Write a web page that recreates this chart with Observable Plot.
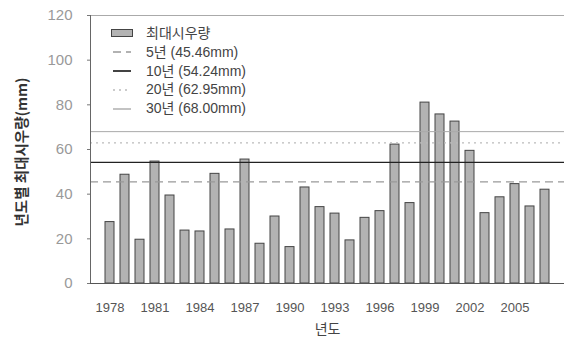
<!DOCTYPE html>
<html>
<head>
<meta charset="utf-8">
<script src="https://cdn.jsdelivr.net/npm/d3@7"></script>
<script src="https://cdn.jsdelivr.net/npm/@observablehq/plot@0.6"></script>
<style>
  html, body { margin: 0; padding: 0; background: #fff; }
  #wrap { position: relative; width: 564px; height: 344px; font-family: "Liberation Sans", Arial, "Noto Sans CJK KR", sans-serif; }
  #legend { position: absolute; left: 111px; top: 24px; font-size: 14px; color: #444; line-height: 18.8px; font-family: "Liberation Sans", Arial, "Noto Sans CJK KR", sans-serif; }
  #legend .row { display: flex; align-items: center; height: 18.8px; }
  #legend .sw { width: 22px; height: 10px; margin-right: 13px; position: relative; }
  #ytitle { position: absolute; left: 20px; top: 152px; transform: translate(-50%, -50%) rotate(-90deg); white-space: nowrap; font-size: 14.5px; font-weight: bold; color: #333; font-family: "Noto Sans CJK KR", sans-serif; }
</style>
</head>
<body>
<div id="wrap"><div id="ytitle">년도별 최대시우량(mm)</div></div>
<script>
const years = d3.range(1978, 2008);
const rainfall = [27.5, 48.7, 19.6, 54.6, 39.4, 23.7, 23.3, 49.1, 24.2, 55.5,
                  17.8, 30.0, 16.3, 43.0, 34.2, 31.3, 19.3, 29.4, 32.4, 62.2,
                  36.0, 81.0, 75.7, 72.5, 59.4, 31.5, 38.6, 44.5, 34.5, 42.0];
const barLabel = "최대시우량";
const periodLabels = ["5년 (45.46mm)", "10년 (54.24mm)", "20년 (62.95mm)", "30년 (68.00mm)"];
const periodValues = [45.46, 54.24, 62.95, 68.00];
const periodStyles = [
  {stroke: "#999", width: 1.2, dash: "8,5"},
  {stroke: "#222", width: 1.3, dash: null},
  {stroke: "#bbb", width: 1.2, dash: "2,4"},
  {stroke: "#aaa", width: 1.0, dash: null}
];
const xTicks = years.filter((y, i) => i % 3 === 0);
const yTicks = [0, 20, 40, 60, 80, 100, 120];

const data = years.map((y, i) => ({year: y, value: rainfall[i]}));
const lines = periodValues.map((v, i) => ({value: v, label: periodLabels[i], ...periodStyles[i]}));

const chart = Plot.plot({
  width: 564,
  height: 344,
  marginLeft: 90,
  marginRight: 0,
  marginTop: 15,
  marginBottom: 61,
  style: {fontFamily: "Liberation Sans, Arial, sans-serif", background: "#fff"},
  x: {type: "band", domain: years, padding: 0.42, label: null},
  y: {domain: [0, 120], label: null},
  marks: [
    Plot.barY(data, {x: "year", y: "value", fill: "#b3b3b3", stroke: "#444", strokeWidth: 1}),
    ...lines.map(l => Plot.ruleY([l.value], {stroke: l.stroke, strokeWidth: l.width, strokeDasharray: l.dash})),
    Plot.frame({stroke: "#aaa", strokeWidth: 1}),
    Plot.frame({anchor: "left", stroke: "#666", strokeWidth: 1}),
    Plot.frame({anchor: "bottom", stroke: "#555", strokeWidth: 1.2}),
    Plot.axisX({ticks: xTicks, tickSize: 0, tickPadding: 19, fontSize: 13, color: "#555", tickFormat: d => String(d), label: null}),
    Plot.axisY({ticks: yTicks, tickSize: 3, tickPadding: 15, fontSize: 15, color: "#999", stroke: "#777", label: null}),
    Plot.text(["년도"], {frameAnchor: "bottom", dy: 50, fontSize: 14, fill: "#444", fontFamily: "Noto Sans CJK KR"})
  ]
});
const wrap = document.getElementById("wrap");
wrap.insertBefore(chart, wrap.firstChild);

const legend = document.createElement("div");
legend.id = "legend";
const rowBar = document.createElement("div");
rowBar.className = "row";
rowBar.innerHTML = `<span class="sw" style="height:8px;background:#b3b3b3;border:1.2px solid #444;box-sizing:border-box;"></span><span>${barLabel}</span>`;
legend.appendChild(rowBar);
lines.forEach(l => {
  const r = document.createElement("div");
  r.className = "row";
  const svg = `<svg width="22" height="10" style="margin-right:13px"><line x1="2" x2="20" y1="5" y2="5" stroke="${l.stroke}" stroke-width="${l.width + 0.4}" ${l.dash ? `stroke-dasharray="${l.dash}"` : ""}/></svg>`;
  r.innerHTML = svg + `<span>${l.label}</span>`;
  legend.appendChild(r);
});
wrap.appendChild(legend);
</script>
</body>
</html>
